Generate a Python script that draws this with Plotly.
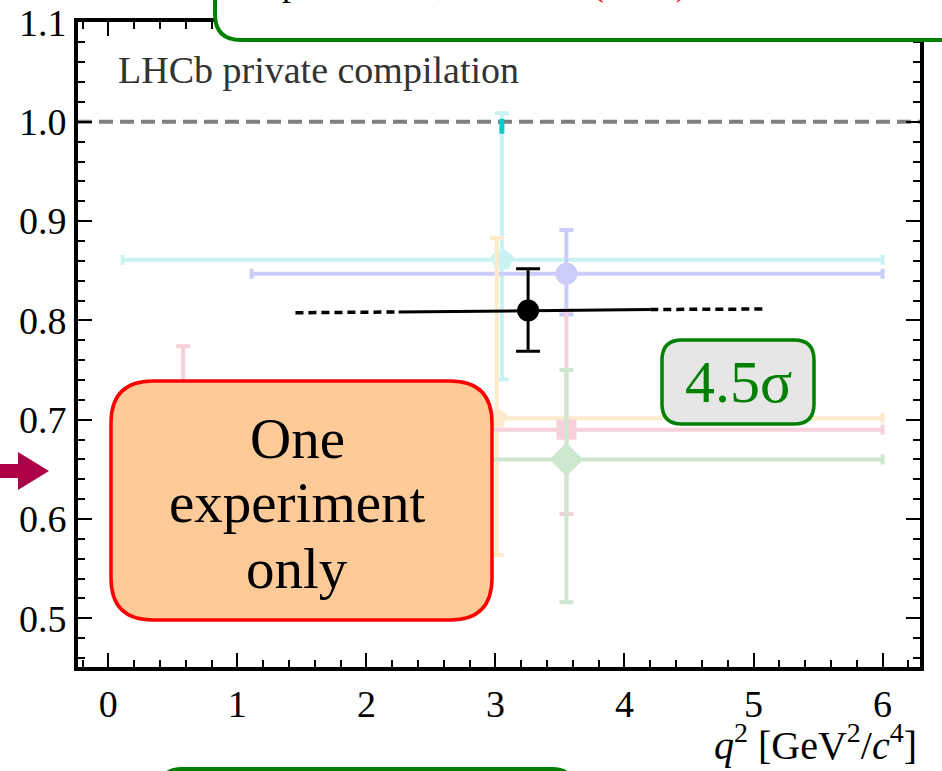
import plotly.graph_objects as go

# ---- measurements (q^2 in GeV^2/c^4) ----
labels = ["cyan", "lavender", "orange", "pink", "green"]
q2 = [3.05, 3.55, 3.01, 3.55, 3.55]
val = [0.861, 0.847, 0.7015, 0.690, 0.660]
err_up = [0.1475, 0.044, 0.1815, 0.120, 0.090]
err_dn = [0.1205, 0.041, 0.1378, 0.085, 0.1437]
q2_lo = [0.11, 1.11, 1.10, 1.10, 1.10]
q2_hi = [6.0, 6.0, 6.0, 6.0, 6.0]
colors = ["#c9f3f3", "#ccccfb", "#ffeacc", "#f8d0da", "#cfe7cf"]
symbols = ["pentagon", "circle", "pentagon", "square", "diamond"]
msizes = [24, 22, 22, 20, 26]

# low-q2 point (mostly hidden behind the label box)
lowq_x = [0.58]
lowq_y = [0.66]
lowq_up = [0.114]
lowq_dn = [0.06]

# short highlighted segment near unity
seg_x = [3.05, 3.05]
seg_y = [0.988, 1.003]

# combined average and its band
avg_x = [3.253]
avg_y = [0.810]
avg_up = [0.042]
avg_dn = [0.041]
avg_solid_x = [2.25, 4.20]
avg_solid_y = [0.8085, 0.8110]
avg_dash_left_x = [1.45, 2.25]
avg_dash_left_y = [0.8077, 0.8085]
avg_dash_right_x = [4.20, 5.10]
avg_dash_right_y = [0.8110, 0.8115]

ref_x = [-0.235, 6.29]
ref_y = [1.0, 1.0]

x_ticks = [0, 1, 2, 3, 4, 5, 6]
y_ticks = [0.5, 0.6, 0.7, 0.8, 0.9, 1.0, 1.1]

box_lines = ["One", "experiment", "only"]

# ---- figure geometry (pixels) ----
W, H = 942, 771
L, R, T, B = 78, 920, 22, 667


def px(x):
    return (x - L) / (R - L)


def py(y):
    return (B - y) / (B - T)


def rounded_rect(x0, y0, x1, y1, r):
    """SVG path in paper coords for a rounded rectangle given in pixels."""
    def P(x, y):
        return f"{px(x):.5f},{py(y):.5f}"
    parts = [
        f"M {P(x0 + r, y0)}",
        f"L {P(x1 - r, y0)}",
        f"Q {P(x1, y0)} {P(x1, y0 + r)}",
        f"L {P(x1, y1 - r)}",
        f"Q {P(x1, y1)} {P(x1 - r, y1)}",
        f"L {P(x0 + r, y1)}",
        f"Q {P(x0, y1)} {P(x0, y1 - r)}",
        f"L {P(x0, y0 + r)}",
        f"Q {P(x0, y0)} {P(x0 + r, y0)}",
        "Z",
    ]
    return " ".join(parts)


fig = go.Figure()

# reference line at unity
fig.add_trace(go.Scatter(
    x=ref_x, y=ref_y, mode="lines",
    line=dict(color="#808080", width=4, dash="14px,7px"),
    hoverinfo="skip", showlegend=False))

# low-q2 point
fig.add_trace(go.Scatter(
    x=lowq_x, y=lowq_y, mode="markers",
    marker=dict(color="#f8d0da", size=20, symbol="square"),
    error_y=dict(type="data", symmetric=False, array=lowq_up, arrayminus=lowq_dn,
                 color="#f8d0da", thickness=4, width=7),
    showlegend=False))

# individual measurements
for i, name in enumerate(labels):
    fig.add_trace(go.Scatter(
        x=[q2[i]], y=[val[i]], mode="markers", name=name,
        marker=dict(color=colors[i], size=msizes[i], symbol=symbols[i],
                    line=dict(width=0)),
        error_y=dict(type="data", symmetric=False, array=[err_up[i]],
                     arrayminus=[err_dn[i]], color=colors[i], thickness=4, width=7),
        error_x=dict(type="data", symmetric=False, array=[q2_hi[i] - q2[i]],
                     arrayminus=[q2[i] - q2_lo[i]], color=colors[i], thickness=4, width=5),
        showlegend=False))

fig.add_trace(go.Scatter(
    x=seg_x, y=seg_y, mode="lines",
    line=dict(color="#00cccc", width=5),
    showlegend=False))

# average: band lines and point
fig.add_trace(go.Scatter(
    x=avg_dash_left_x, y=avg_dash_left_y, mode="lines",
    line=dict(color="black", width=3.5, dash="8px,5px"), showlegend=False))
fig.add_trace(go.Scatter(
    x=avg_dash_right_x, y=avg_dash_right_y, mode="lines",
    line=dict(color="black", width=3.5, dash="8px,5px"), showlegend=False))
fig.add_trace(go.Scatter(
    x=avg_solid_x, y=avg_solid_y, mode="lines",
    line=dict(color="black", width=3), showlegend=False))
fig.add_trace(go.Scatter(
    x=avg_x, y=avg_y, mode="markers",
    marker=dict(color="black", size=22, symbol="circle"),
    error_y=dict(type="data", symmetric=False, array=avg_up, arrayminus=avg_dn,
                 color="black", thickness=3, width=12),
    showlegend=False))

shapes = [
    # "One experiment only" box
    dict(type="path", xref="paper", yref="paper", layer="above",
         path=rounded_rect(111, 381, 492, 620, 42),
         fillcolor="#fdca98", line=dict(color="#ff0000", width=3.5)),
    # significance box
    dict(type="path", xref="paper", yref="paper", layer="above",
         path=rounded_rect(662, 340, 814, 424, 20),
         fillcolor="#e6e6e6", line=dict(color="#008000", width=3.5)),
    # header box (extends beyond the page top)
    dict(type="path", xref="paper", yref="paper", layer="above",
         path=rounded_rect(215, -80, 990, 40, 26),
         fillcolor="white", line=dict(color="#008000", width=4)),
    # footer box (extends beyond the page bottom)
    dict(type="path", xref="paper", yref="paper", layer="above",
         path=rounded_rect(160, 769, 574, 860, 22),
         fillcolor="white", line=dict(color="#008000", width=4)),
    # pointer arrow on the left
    dict(type="path", xref="paper", yref="paper", layer="above",
         path=(f"M {px(-5):.5f},{py(464):.5f} L {px(18):.5f},{py(464):.5f} "
               f"L {px(18):.5f},{py(452):.5f} L {px(49):.5f},{py(471):.5f} "
               f"L {px(18):.5f},{py(490):.5f} L {px(18):.5f},{py(478):.5f} "
               f"L {px(-5):.5f},{py(478):.5f} Z"),
         fillcolor="#ae0049", line=dict(width=0)),
]

serif = "Liberation Serif"
annotations = [
    dict(text="LHCb private compilation", xref="paper", yref="paper",
         x=px(116), y=py(70), xanchor="left", yanchor="middle", showarrow=False,
         font=dict(family=serif, size=38, color="#333333")),
    dict(text="4.5σ", xref="paper", yref="paper",
         x=px(738), y=py(382), xanchor="center", yanchor="middle", showarrow=False,
         font=dict(family=serif, size=60, color="#008000")),
    dict(text="<i>q</i><sup>2</sup> [GeV<sup>2</sup>/<i>c</i><sup>4</sup>]",
         xref="paper", yref="paper", x=px(919), y=py(742),
         xanchor="right", yanchor="middle", showarrow=False,
         font=dict(family=serif, size=40, color="black")),
    dict(text=("Inputs: <span style='color:blue'>Belle, PRL 126</span> "
               "<span style='color:red'>(2021)</span>, "
               "<span style='color:blue'>Belle II, PRD 109</span>"),
         xref="paper", yref="paper", x=px(250), y=py(5),
         xanchor="left", yanchor="bottom", showarrow=False,
         font=dict(family=serif, size=36, color="black")),
]
# label inside the orange box, one annotation per line
for k, (txt, yc) in enumerate(zip(box_lines, [438, 503, 568])):
    annotations.append(dict(
        text=txt, xref="paper", yref="paper", x=px(297), y=py(yc),
        xanchor="center", yanchor="middle", showarrow=False,
        font=dict(family=serif, size=57, color="black")))

axis_common = dict(
    showgrid=False, zeroline=False, showline=True, linecolor="black",
    linewidth=4, mirror="allticks", ticks="inside", ticklen=14, tickwidth=2,
    tickcolor="black", tickfont=dict(family=serif, size=38, color="black"),
    automargin=False,
)

fig.update_layout(
    width=W, height=H,
    margin=dict(l=L, r=W - R, t=T, b=H - B, pad=0, autoexpand=False),
    paper_bgcolor="white", plot_bgcolor="white",
    shapes=shapes, annotations=annotations,
    xaxis=dict(range=[-0.235, 6.29], tickmode="array", tickvals=x_ticks,
               ticktext=[str(v) for v in x_ticks],
               minor=dict(dtick=0.2, tick0=0, ticklen=7, tickwidth=1.5,
                          ticks="inside", tickcolor="black"),
               **axis_common),
    yaxis=dict(range=[0.451, 1.1005], tickmode="array", tickvals=y_ticks,
               ticktext=[f"{v:.1f}" for v in y_ticks],
               minor=dict(dtick=0.02, tick0=0.5, ticklen=7, tickwidth=1.5,
                          ticks="inside", tickcolor="black"),
               **axis_common),
    showlegend=False,
)

fig.write_html("out.html")
